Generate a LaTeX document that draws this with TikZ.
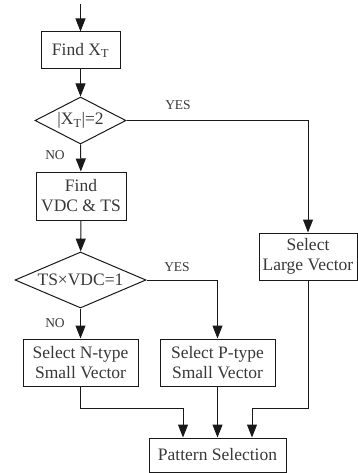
\documentclass[tikz,border=0pt]{standalone}
\usepackage{fontspec}
\setmainfont{Liberation Serif}
\usetikzlibrary{shapes.geometric,arrows.meta}
\tikzset{
  box/.style={draw=black!90, line width=1pt, rectangle, inner sep=0pt, align=center,
    font=\fontsize{17.5}{20}\selectfont, text=black!78},
  dec/.style={draw=black!90, line width=1pt, diamond, inner sep=0pt, aspect=1},
  dtext/.style={font=\fontsize{17.5}{20}\selectfont, text=black!78, inner sep=0pt},
  lab/.style={font=\fontsize{13.5}{16}\selectfont, text=black!78, inner sep=0pt},
  arr/.style={draw=black!90, line width=1pt, -{Triangle[length=13pt,width=10pt]}},
  ln/.style={draw=black!90, line width=1pt}
}
\begin{document}
\begin{tikzpicture}[x=1pt,y=-1pt]
\useasboundingbox (0,0) rectangle (358,473);
\coordinate (start) at (80.5,4);
\node[box, minimum width=79pt, minimum height=37pt] (findx) at (80.5,50.5) {Find X\textsubscript{T}};
\node[dec, minimum width=91pt, minimum height=47pt,
  label={[dtext]center:{|X\textsubscript{T}|=2}}] (d1) at (80.5,120.5) {};
\node[box, minimum width=90pt, minimum height=48pt] (vdc) at (81,196) {Find\\VDC \& TS};
\node[dec, minimum width=131pt, minimum height=56pt,
  label={[dtext]center:{TS×VDC=1}}] (d2) at (80.5,280) {};
\node[box, minimum width=115pt, minimum height=47pt] (nbox) at (80.5,362.5) {Select N-type\\Small Vector};
\node[box, minimum width=115pt, minimum height=47pt] (pbox) at (217.5,362.5) {Select P-type\\Small Vector};
\node[box, minimum width=98pt, minimum height=47pt] (lbox) at (308,256.5) {Select\\Large Vector};
\node[box, minimum width=137pt, minimum height=34pt] (pat) at (217.5,455) {Pattern Selection};

\node[lab] (yes1) at (178,105) {YES};
\node[lab] (no1) at (55,155) {NO};
\node[lab] (yes2) at (177,267) {YES};
\node[lab] (no2) at (55,323) {NO};

\coordinate (jl) at (183,408);
\coordinate (jr) at (252,408);

\draw[arr] (start) -- (findx);
\draw[arr] (findx) -- (d1);
\draw[arr] (d1) -- (vdc);
\draw[arr] (d1.east) -| (lbox.north);
\draw[arr] (vdc) -- (d2);
\draw[arr] (d2) -- (nbox);
\draw[arr] (d2.east) -| (pbox.north);
\draw[arr] (nbox.south) |- (jl) -- (jl |- pat.north);
\draw[arr] (pbox) -- (pat);
\draw[arr] (lbox.south) |- (jr) -- (jr |- pat.north);
\end{tikzpicture}
\end{document}
